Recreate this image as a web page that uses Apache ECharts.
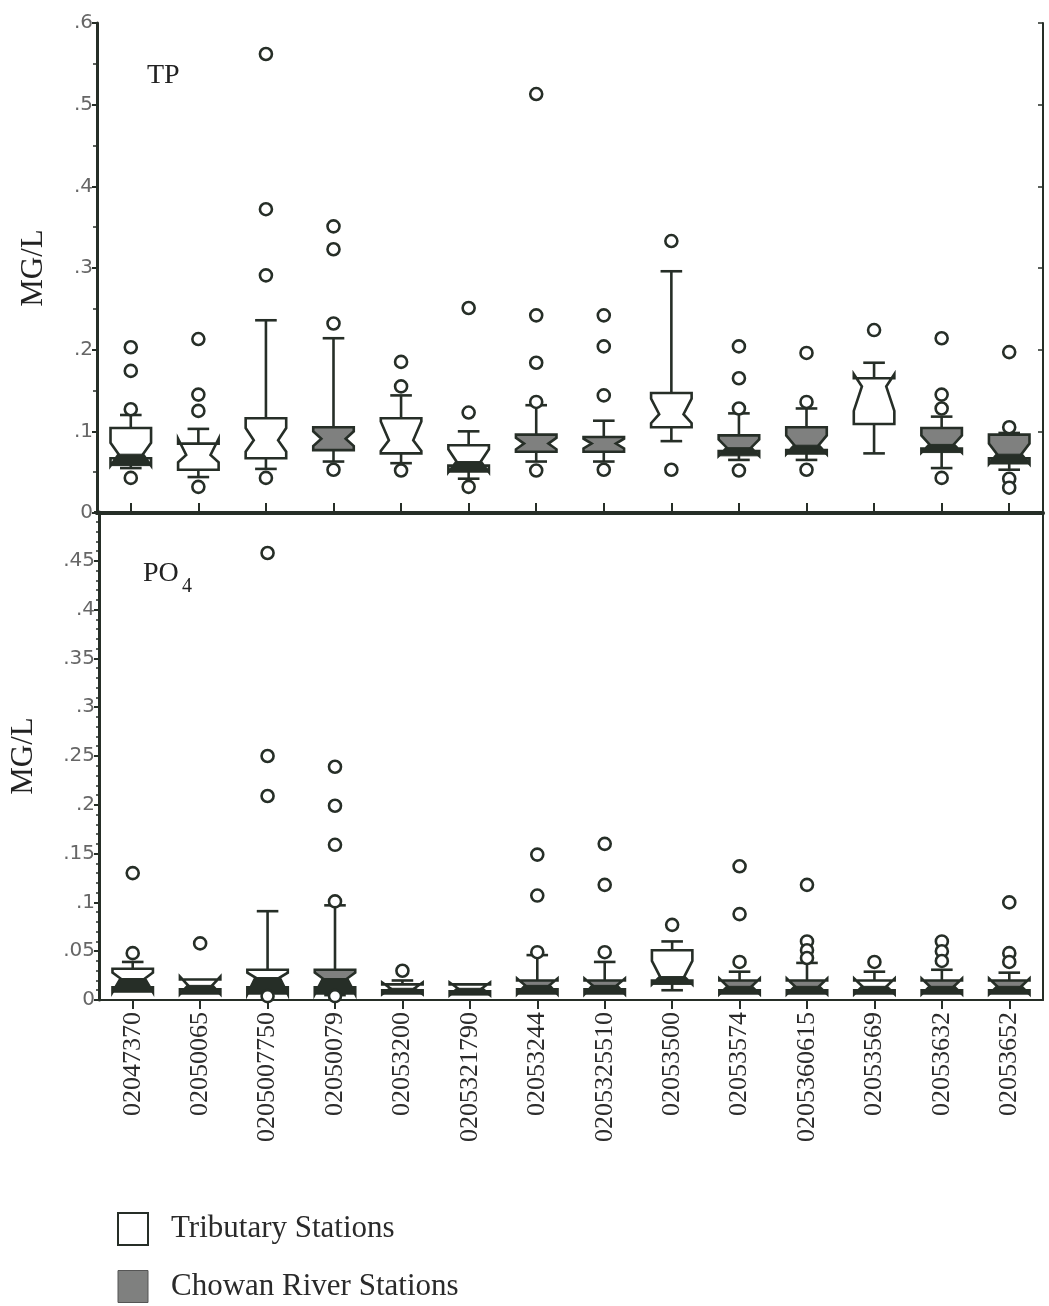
<!DOCTYPE html>
<html><head><meta charset="utf-8">
<script src="https://cdn.jsdelivr.net/npm/echarts@6/dist/echarts.min.js"></script>
<style>html,body{margin:0;padding:0;background:#fff}#c{width:1049px;height:1306px}</style>
</head><body><div id="c"></div>
<script>
// ---------- DATA ----------
const stations = ['02047370','02050065','0205007750','02050079','02053200','0205321790','02053244',
  '0205325510','02053500','02053574','0205360615','02053569','02053632','02053652'];
const isChowan = [false,false,false,true,false,false,true,true,false,true,true,false,true,true];

// TP (mg/L)
const tpLow     = [0.055,0.044,0.054,0.063,0.061,0.042,0.063,0.063,0.088,0.065,0.065,0.073,0.055,0.053];
const tpQ1      = [0.067,0.053,0.067,0.077,0.073,0.058,0.075,0.075,0.105,0.076,0.077,0.109,0.079,0.067];
const tpNotchLo = [0.058,0.062,0.075,0.082,0.076,0.050,0.078,0.079,0.110,0.070,0.072,0.125,0.074,0.060];
const tpMed     = [0.072,0.071,0.089,0.091,0.089,0.063,0.085,0.085,0.121,0.080,0.083,0.155,0.084,0.072];
const tpNotchHi = [0.086,0.091,0.104,0.100,0.112,0.078,0.092,0.091,0.140,0.090,0.095,0.170,0.095,0.085];
const tpQ3      = [0.104,0.085,0.116,0.105,0.116,0.083,0.096,0.093,0.147,0.095,0.105,0.165,0.104,0.096];
const tpHigh    = [0.120,0.103,0.236,0.214,0.144,0.100,0.132,0.113,0.296,0.122,0.128,0.184,0.118,0.098];
const tpOutliers = [
  [0.203,0.174,0.127,0.043],[0.213,0.145,0.125,0.032],[0.562,0.372,0.291,0.043],[0.351,0.323,0.232,0.053],
  [0.185,0.155,0.052],[0.251,0.123,0.032],[0.513,0.242,0.184,0.136,0.052],[0.242,0.204,0.144,0.053],
  [0.333,0.053],[0.204,0.165,0.128,0.052],[0.196,0.136,0.053],[0.224],[0.214,0.145,0.128,0.043],
  [0.197,0.105,0.042,0.031]];

// PO4 (mg/L)
const poLow     = [0.010,0.010,0.008,0.005,0.008,0.008,0.008,0.008,0.010,0.008,0.008,0.008,0.008,0.008];
const poQ1      = [0.013,0.011,0.013,0.013,0.010,0.009,0.011,0.011,0.020,0.010,0.010,0.010,0.010,0.010];
const poNotchLo = [0.008,0.006,0.006,0.006,0.006,0.005,0.006,0.006,0.016,0.006,0.006,0.006,0.006,0.006];
const poMed     = [0.022,0.015,0.023,0.022,0.012,0.012,0.015,0.015,0.024,0.014,0.014,0.014,0.014,0.014];
const poNotchHi = [0.028,0.024,0.028,0.028,0.018,0.018,0.022,0.022,0.040,0.022,0.022,0.022,0.022,0.022];
const poQ3      = [0.032,0.021,0.031,0.031,0.016,0.016,0.020,0.020,0.051,0.020,0.020,0.020,0.020,0.020];
const poHigh    = [0.039,0.021,0.091,0.097,0.020,0.016,0.046,0.039,0.060,0.029,0.038,0.029,0.031,0.028];
const poOutliers = [
  [0.130,0.048],[0.058],[0.458,0.250,0.209,0.004],[0.239,0.199,0.159,0.101,0.004],
  [0.030],[],[0.149,0.107,0.049],[0.160,0.118,0.049],
  [0.077],[0.137,0.088,0.039],[0.118,0.060,0.051,0.043],[0.039],[0.060,0.050,0.040],
  [0.100,0.048,0.039]];

// ---------- STYLE ----------
const INK = '#262e27';
const SHADE = '#7f807f';
const SERIF = 'Liberation Serif';
const SANS = 'DejaVu Sans';

function boxData(low,q1,nlo,med,nhi,q3,high,wantChowan){
  const out=[];
  for(let i=0;i<stations.length;i++) if(isChowan[i]===wantChowan)
    out.push([i,low[i],q1[i],nlo[i],med[i],nhi[i],q3[i],high[i]]);
  return out;
}
function outlierData(outs){const r=[];outs.forEach((a,i)=>a.forEach(v=>r.push([i,v])));return r;}

function makeRender(fill){
  return function(params, api){
    const i = api.value(0);
    const Y = k => api.coord([i, api.value(k)])[1];
    const cx = api.coord([i, 0])[0];
    const band = api.size([1,0])[0];
    const w = band*0.3, wn = w*0.6, cw = band*0.16;
    const yLo=Y(1), yQ1=Y(2), yNl=Y(3), yMd=Y(4), yNh=Y(5), yQ3=Y(6), yHi=Y(7);
    const lw = 2.6;
    const ln = (x1,y1,x2,y2)=>({type:'line',shape:{x1,y1,x2,y2},style:{stroke:INK,lineWidth:lw}});
    const ch=[];
    if(yLo>yQ1+0.5){ch.push(ln(cx,yQ1,cx,yLo));ch.push(ln(cx-cw,yLo,cx+cw,yLo));}
    if(yHi<yQ3-0.5){ch.push(ln(cx,yQ3,cx,yHi));ch.push(ln(cx-cw,yHi,cx+cw,yHi));}
    const pts=[[cx-w,yQ1],[cx-w,yNl],[cx-wn,yMd],[cx-w,yNh],[cx-w,yQ3],[cx+w,yQ3],[cx+w,yNh],[cx+wn,yMd],[cx+w,yNl],[cx+w,yQ1]];
    ch.push({type:'polygon',shape:{points:pts},style:{fill:fill,stroke:INK,lineWidth:lw,lineJoin:'miter'}});
    if(yNl>yQ1+0.5){
      ch.push({type:'polygon',shape:{points:[[cx-wn,yMd],[cx+wn,yMd],[cx+w,yNl],[cx-w,yNl]]},style:{fill:INK,stroke:INK,lineWidth:1}});
    }
    if(yNh<yQ3-0.5){
      const t=(yMd-yQ3)/(yMd-yNh);
      const xl=cx-wn-(w-wn)*t, xr=cx+wn+(w-wn)*t;
      ch.push({type:'polygon',shape:{points:[[cx-w,yQ3],[cx-w,yNh],[xl,yQ3]]},style:{fill:INK,stroke:INK,lineWidth:1}});
      ch.push({type:'polygon',shape:{points:[[cx+w,yQ3],[cx+w,yNh],[xr,yQ3]]},style:{fill:INK,stroke:INK,lineWidth:1}});
    }
    return {type:'group',children:ch};
  };
}

function fmt(v){const r=Math.round(v*1000)/1000; if(r===0) return '0'; return String(r).replace(/^0/,'');}

const catAxisBase = {type:'category',data:stations,boundaryGap:true};
const tickBase = {show:true,interval:0,alignWithLabel:true,lineStyle:{color:INK,width:2}};

const option = {
  animation:false,
  backgroundColor:'#fff',
  grid:[{left:97,top:23,width:946,height:490},{left:97,top:512,width:946,height:488}],
  xAxis:[
    Object.assign({},catAxisBase,{gridIndex:0,position:'bottom',
      axisLine:{lineStyle:{color:INK,width:4}},
      axisTick:Object.assign({},tickBase,{inside:true,length:8}),
      axisLabel:{show:false,interval:0}}),
    Object.assign({},catAxisBase,{gridIndex:0,position:'top',
      axisLine:{lineStyle:{color:INK,width:3}},
      axisTick:Object.assign({},tickBase,{inside:false,length:10}),
      axisLabel:{show:false,interval:0}}),
    Object.assign({},catAxisBase,{gridIndex:1,position:'bottom',
      axisLine:{lineStyle:{color:INK,width:2}},
      axisTick:Object.assign({},tickBase,{inside:false,length:9}),
      axisLabel:{interval:0,rotate:90,margin:12,fontFamily:SERIF,fontSize:26,color:'#2a2a2a'}}),
    Object.assign({},catAxisBase,{gridIndex:1,position:'top',
      axisLine:{show:false},
      axisTick:Object.assign({},tickBase,{inside:true,length:8}),
      axisLabel:{show:false,interval:0}})
  ],
  yAxis:[
    {type:'value',gridIndex:0,position:'left',min:0,max:0.6,interval:0.1,
     name:'MG/L',nameLocation:'middle',nameGap:48,
     nameTextStyle:{fontFamily:SERIF,fontSize:31,color:'#222'},
     axisLine:{show:true,lineStyle:{color:INK,width:3}},
     axisTick:{show:true,inside:false,length:5,lineStyle:{color:INK,width:2}},
     minorTick:{show:true,splitNumber:2,length:4,lineStyle:{color:INK,width:1.5}},
     splitLine:{show:false},
     axisLabel:{formatter:fmt,margin:4,fontFamily:SANS,fontSize:20,color:'#666'}},
    {type:'value',gridIndex:0,position:'right',min:0,max:0.6,interval:0.1,
     axisLine:{show:true,lineStyle:{color:INK,width:2}},
     axisTick:{show:true,inside:true,length:5,lineStyle:{color:INK,width:1.5}},
     splitLine:{show:false},axisLabel:{show:false}},
    {type:'value',gridIndex:1,position:'left',min:0,max:0.5,interval:0.05,
     name:'MG/L',nameLocation:'middle',nameGap:60,
     nameTextStyle:{fontFamily:SERIF,fontSize:31,color:'#222'},
     axisLine:{show:true,lineStyle:{color:INK,width:3}},
     axisTick:{show:true,inside:false,length:5,lineStyle:{color:INK,width:2}},
     minorTick:{show:true,splitNumber:5,length:3,lineStyle:{color:INK,width:1.5}},
     splitLine:{show:false},
     axisLabel:{formatter:v=>(Math.abs(v-0.5)<1e-9?'':fmt(v)),margin:4,fontFamily:SANS,fontSize:20,color:'#666'}},
    {type:'value',gridIndex:1,position:'right',min:0,max:0.5,interval:0.05,
     axisLine:{show:true,lineStyle:{color:INK,width:2}},
     axisTick:{show:false},splitLine:{show:false},axisLabel:{show:false}}
  ],
  legend:{orient:'vertical',left:117,top:1212,height:96,padding:0,itemWidth:30,itemHeight:32,itemGap:24,selectedMode:false,
    data:[
      {name:'Tributary Stations',icon:'rect',itemStyle:{color:'#fff',borderColor:INK,borderWidth:2}},
      {name:'Chowan River Stations',icon:'rect',itemStyle:{color:SHADE,borderColor:'#555',borderWidth:1}}
    ],
    textStyle:{fontFamily:SERIF,fontSize:31,color:'#2a2a2a',padding:[0,0,0,18]}},
  graphic:[
    {type:'text',left:147,top:62,style:{text:'TP',font:'28px "Liberation Serif"',fill:'#222'}},
    {type:'text',left:143,top:560,style:{text:'PO',font:'28px "Liberation Serif"',fill:'#222'}},
    {type:'text',left:182,top:577,style:{text:'4',font:'20px "Liberation Serif"',fill:'#222'}}
  ],
  series:[
    {type:'custom',name:'Tributary Stations',xAxisIndex:0,yAxisIndex:0,renderItem:makeRender('#fff'),
     encode:{x:0,y:[1,2,3,4,5,6,7]},data:boxData(tpLow,tpQ1,tpNotchLo,tpMed,tpNotchHi,tpQ3,tpHigh,false),z:2},
    {type:'custom',name:'Chowan River Stations',xAxisIndex:0,yAxisIndex:0,renderItem:makeRender(SHADE),
     encode:{x:0,y:[1,2,3,4,5,6,7]},data:boxData(tpLow,tpQ1,tpNotchLo,tpMed,tpNotchHi,tpQ3,tpHigh,true),z:2},
    {type:'scatter',name:'tp outliers',xAxisIndex:0,yAxisIndex:0,symbol:'circle',symbolSize:12,
     itemStyle:{color:'#fff',borderColor:INK,borderWidth:2.6,opacity:1},data:outlierData(tpOutliers),z:3},
    {type:'custom',name:'Tributary Stations',xAxisIndex:2,yAxisIndex:2,renderItem:makeRender('#fff'),
     encode:{x:0,y:[1,2,3,4,5,6,7]},data:boxData(poLow,poQ1,poNotchLo,poMed,poNotchHi,poQ3,poHigh,false),z:2},
    {type:'custom',name:'Chowan River Stations',xAxisIndex:2,yAxisIndex:2,renderItem:makeRender(SHADE),
     encode:{x:0,y:[1,2,3,4,5,6,7]},data:boxData(poLow,poQ1,poNotchLo,poMed,poNotchHi,poQ3,poHigh,true),z:2},
    {type:'scatter',name:'po4 outliers',xAxisIndex:2,yAxisIndex:2,symbol:'circle',symbolSize:12,
     itemStyle:{color:'#fff',borderColor:INK,borderWidth:2.6,opacity:1},data:outlierData(poOutliers),z:3}
  ]
};
const chart = echarts.init(document.getElementById('c'),null,{renderer:'canvas'});
chart.setOption(option);
</script></body></html>
